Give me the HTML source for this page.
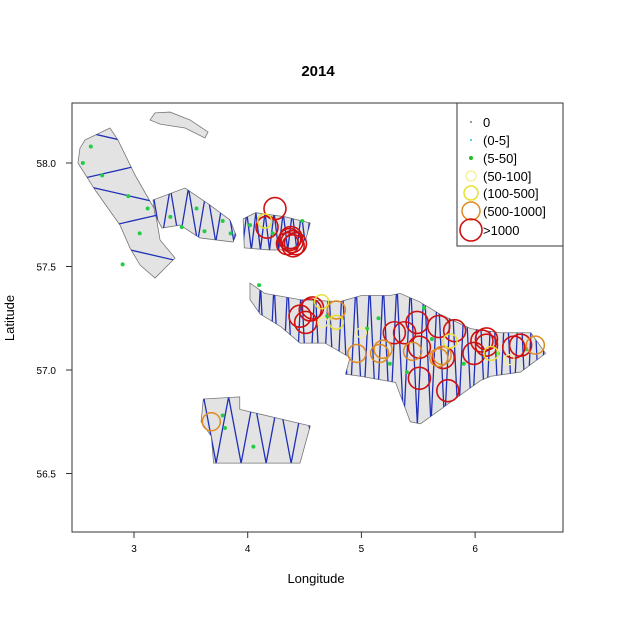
<!DOCTYPE html>
<html><head><meta charset="utf-8">
<style>
html,body{margin:0;padding:0;background:#fff;}
svg{display:block;font-family:"Liberation Sans",Arial,sans-serif;}
</style></head>
<body>
<svg id="chart" width="636" height="636" viewBox="0 0 636 636">
<defs id="defs"></defs>
<text x="318" y="76" text-anchor="middle" font-size="15" font-weight="bold">2014</text>
<rect x="72" y="103" width="491" height="429" fill="none" stroke="#333" stroke-width="1"/>
<g id="polys"></g>
<g id="lines"></g>
<g id="dots"></g>
<g id="marks"></g>
<g id="xaxis"></g>
<g id="yaxis"></g>
<text x="316" y="583" text-anchor="middle" font-size="13">Longitude</text>
<text transform="translate(14,318) rotate(-90)" text-anchor="middle" font-size="13">Latitude</text>
<g id="legend">
<rect x="457" y="103" width="106" height="143" fill="#fff" stroke="#333" stroke-width="1"/>
</g>
</svg>
<script>
// axis tick data
const xTicks=[3,4,5,6];
const yTicks=[56.5,57.0,57.5,58.0];
const yTickLabels=["56.5","57.0","57.5","58.0"];
// survey polygons (lon,lat pairs)
const polyNW=[[2.569,58.111],[2.789,58.169],[2.859,58.111],[3.009,57.942],[3.185,57.773],[3.229,57.628],[3.361,57.541],[3.185,57.444],[3.053,57.507],[2.965,57.589],[2.877,57.700],[2.657,57.870],[2.507,58.0],[2.525,58.072]];
const polySmall=[[3.185,58.242],[3.317,58.246],[3.493,58.208],[3.651,58.150],[3.624,58.121],[3.449,58.169],[3.229,58.188],[3.141,58.208]];
const polyMid=[[3.167,57.821],[3.449,57.879],[3.668,57.797],[3.844,57.725],[3.897,57.652],[3.871,57.618],[3.580,57.638],[3.405,57.700],[3.246,57.686],[3.185,57.749]];
const polyNE=[[3.96,57.73],[4.07,57.76],[4.33,57.74],[4.55,57.71],[4.51,57.63],[4.37,57.58],[4.19,57.58],[3.97,57.59]];
const polyBig=[[4.02,57.42],[4.15,57.37],[4.46,57.34],[4.81,57.33],[5.0,57.36],[5.25,57.36],[5.34,57.37],[5.51,57.33],[5.69,57.27],[5.96,57.20],[6.22,57.18],[6.49,57.18],[6.62,57.08],[6.40,56.99],[6.14,56.97],[6.05,56.95],[5.52,56.74],[5.43,56.75],[5.30,56.94],[4.99,56.97],[4.86,56.98],[4.90,57.06],[4.68,57.13],[4.46,57.13],[4.29,57.21],[4.11,57.27],[4.02,57.34]];
const polySouth=[[3.61,56.86],[3.93,56.87],[3.93,56.81],[4.55,56.73],[4.46,56.55],[3.70,56.55],[3.68,56.68],[3.59,56.75]];
const polys=[polyNW,polySmall,polyMid,polyNE,polyBig,polySouth];
const transectStep=[0.13,0,0.08,0.04,0.06,0.11];
// catch records
const catchLon=[4.24,4.17,4.39,4.40,4.37,4.35,4.42,4.38,4.57,4.46,4.51,4.55,5.29,5.49,5.68,5.82,6.06,6.10,5.99,6.10,6.34,6.40,5.72,5.76,5.38,5.51,5.51,4.96,5.16,5.19,4.78,5.71,6.53,3.68,5.45,5.68,4.65,4.78,5.78,6.14,4.15,6.30,4.66,5.0];
const catchLat=[57.78,57.69,57.62,57.60,57.63,57.61,57.61,57.64,57.30,57.26,57.23,57.29,57.18,57.23,57.21,57.19,57.14,57.15,57.08,57.12,57.11,57.12,57.06,56.90,57.18,57.11,56.96,57.08,57.08,57.10,57.29,57.07,57.12,56.75,57.09,57.06,57.33,57.23,57.14,57.08,57.72,57.05,57.23,57.18];
const catchClass=[6,6,6,6,6,6,6,6,6,6,6,6,6,6,6,6,6,6,6,6,6,6,6,6,6,6,6,5,5,5,5,5,5,5,5,5,4,4,4,4,4,3,3,3];
// low-catch stations (5-50]
const dotLon=[2.55,2.72,2.62,2.95,3.12,3.05,2.90,3.32,3.42,3.55,3.62,3.78,3.85,4.02,4.22,4.48,4.10,4.70,5.05,5.25,5.40,5.62,5.90,6.20,6.45,3.78,4.05,3.80,5.15,5.55];
const dotLat=[58.0,57.94,58.08,57.84,57.78,57.66,57.51,57.74,57.69,57.78,57.67,57.72,57.66,57.70,57.66,57.72,57.41,57.26,57.20,57.03,56.99,57.15,57.03,57.08,57.10,56.78,56.63,56.72,57.25,57.30];
const legendLabels=["0","(0-5]","(5-50]","(50-100]","(100-500]","(500-1000]",">1000"];
const classColor=["#222","#22cccc","#22bb22","#f4f08a","#e8e030","#e08a20","#d01010"];
const classRadius=[0.8,1,2,5,7,9,11];
const classStroke=[0,0,1,1.2,1.5,1.5,1.6];

const NS="http://www.w3.org/2000/svg";
function X(lon){return 134+(lon-3)*113.7;}
function Y(lat){return 163-(lat-58)*207;}
function mk(t,a,p){const e=document.createElementNS(NS,t);for(const k in a)e.setAttribute(k,a[k]);p.appendChild(e);return e;}

const xa=document.getElementById('xaxis');
xTicks.forEach(v=>{
  const l=mk('line',{x1:X(v),x2:X(v),y1:532,y2:538,stroke:'#333'},xa);
  
  
  const t=mk('text',{x:X(v),y:552,'text-anchor':'middle','font-size':'10'},xa);
  t.textContent=String(v);
  
  
});
const ya=document.getElementById('yaxis');
yTicks.forEach((v,i)=>{
  const l=mk('line',{x1:66,x2:72,y1:Y(v),y2:Y(v),stroke:'#333'},ya);
  
  
  const t=mk('text',{x:56,y:Y(v)+4,'text-anchor':'end','font-size':'10'},ya);
  t.textContent=yTickLabels[i];
  
  
});

const pg=document.getElementById('polys'),lg=document.getElementById('lines'),defs=document.getElementById('defs');
polys.forEach((p,i)=>{
  const pts=p.map(q=>X(q[0])+','+Y(q[1])).join(' ');
  const e=mk('polygon',{points:pts,fill:'#e3e3e3',stroke:'#777','stroke-width':0.8},pg);
  
  
  if(!transectStep[i])return;
  const cp=mk('clipPath',{id:'cp'+i},defs);
  mk('polygon',{points:pts},cp);
  const xs=p.map(q=>X(q[0])),ys=p.map(q=>Y(q[1]));
  const x0=Math.min(...xs)-10,x1=Math.max(...xs)+10,y0=Math.min(...ys),y1=Math.max(...ys);
  let d='',up=true;
  if(i===0){
    const st=transectStep[i]*207;
    for(let y=y0;y<y1;y+=st){d+=(d?'L':'M')+(up?x0:x1)+','+y;up=!up;}
  } else {
    const step=transectStep[i]*113.7;
    for(let x=x0;x<x1;x+=step){d+=(d?'L':'M')+x+','+(up?y1:y0);up=!up;}
  }
  const g=mk('path',{d:d,fill:'none',stroke:'#1f2fb8','stroke-width':1.3,'clip-path':'url(#cp'+i+')'},lg);
  
  
});

const dg=document.getElementById('dots');
dotLon.forEach((lon,i)=>{
  const e=mk('circle',{cx:X(lon),cy:Y(dotLat[i]),r:2,fill:'#22cc44'},dg);
  
  
});

const mg=document.getElementById('marks');
catchLon.forEach((lon,i)=>{
  const c=catchClass[i];
  const e=mk('circle',{cx:X(lon),cy:Y(catchLat[i]),r:classRadius[c],fill:'none',stroke:classColor[c],'stroke-width':classStroke[c]},mg);
  
  
});

const leg=document.getElementById('legend');
legendLabels.forEach((s,i)=>{
  const y=[122,140,158,176,193,211,230][i];
  const filled=i<3;
  const c=mk('circle',{cx:471,cy:y,r:classRadius[i],fill:filled?classColor[i]:'none',stroke:classColor[i],'stroke-width':filled?0:classStroke[i]},leg);
  
  
  const t=mk('text',{x:483,y:y+5,'font-size':'13'},leg);
  t.textContent=s;
  
  
});
</script>
</body></html>
